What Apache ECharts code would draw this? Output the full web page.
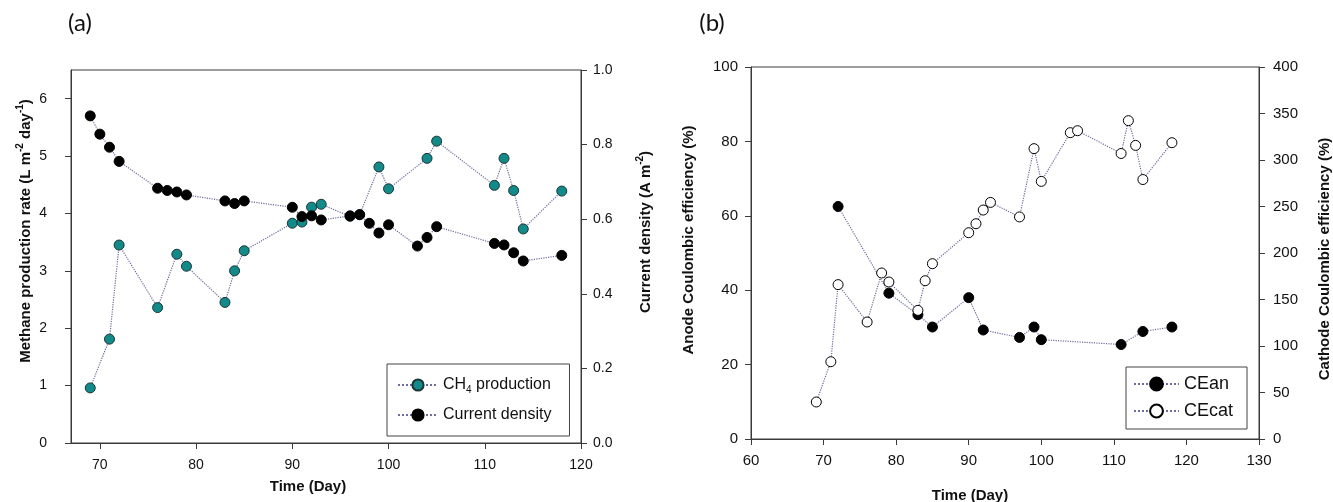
<!DOCTYPE html>
<html><head><meta charset="utf-8">
<script src="https://cdn.jsdelivr.net/npm/echarts@6/dist/echarts.min.js"></script>
<style>html,body{margin:0;padding:0;background:#fff}#c{width:1333px;height:502px}</style>
</head><body><div id="c"></div>
<script>
// ---- Panel (a) data ----
const dayCH4 = [69,71,72,76,78,79,83,84,85,90,91,92,93,96,97,99,100,104,105,111,112,113,114,118];
const ch4Rate = [0.96,1.81,3.45,2.36,3.29,3.08,2.45,3.00,3.35,3.83,3.85,4.11,4.16,3.95,3.98,4.81,4.43,4.96,5.26,4.49,4.96,4.40,3.73,4.39];
const dayCur = [69,70,71,72,76,77,78,79,83,84,85,90,91,92,93,96,97,98,99,100,103,104,105,111,112,113,114,118];
const curDensity = [0.877,0.828,0.793,0.755,0.683,0.677,0.673,0.665,0.649,0.642,0.649,0.632,0.607,0.609,0.598,0.609,0.612,0.589,0.563,0.585,0.528,0.551,0.580,0.535,0.531,0.510,0.488,0.503];
// ---- Panel (b) data ----
const dayCEan = [72,79,83,85,90,92,97,99,100,111,114,118];
const ceAn = [62.5,39.2,33.4,30.1,38.0,29.3,27.3,30.1,26.7,25.4,28.9,30.1];
const dayCEcat = [69,71,72,76,78,79,83,84,85,90,91,92,93,97,99,100,104,105,111,112,113,114,118];
const ceCat = [39.8,83.1,166,125.8,178.5,168.8,138.3,170.2,188.5,221.8,231.5,246.2,254.4,238.8,312.2,277,329.4,331.5,307,342.3,315.7,279,318.6];
// ---- tick values ----
const xTicksA = [70,80,90,100,110,120];
const yTicksA = [0,1,2,3,4,5,6];

const pair = (xs, ys) => xs.map((x, i) => [x, ys[i]]);
const FONT = '"Liberation Sans", Arial, sans-serif';
const AX = '#3a3a3a';
const LINE = '#6c6ca0';

function axisCommon(fs, margin) {
  return {
    axisLine: {show: true, onZero: false, lineStyle: {color: AX, width: 1}},
    axisTick: {show: true, inside: false, length: 6, lineStyle: {color: AX}},
    splitLine: {show: false},
    axisLabel: {color: '#111', fontSize: fs, fontFamily: FONT, margin: margin}
  };
}

const chart = echarts.init(document.getElementById('c'), null, {renderer: 'canvas'});
const option = {
  animation: false,
  backgroundColor: '#fff',
  grid: [
    {left: 71, top: 70, width: 510, height: 373, show: true, borderColor: AX, borderWidth: 1, backgroundColor: 'transparent'},
    {left: 751, top: 67, width: 508, height: 372, show: true, borderColor: AX, borderWidth: 1, backgroundColor: 'transparent'}
  ],
  xAxis: [
    Object.assign(axisCommon(14, 15), {
      type: 'value', gridIndex: 0, min: 67, max: 120,
      axisLabel: {color: '#111', fontSize: 14, fontFamily: FONT, margin: 15, customValues: xTicksA},
      axisTick: {show: true, length: 6, lineStyle: {color: AX}, customValues: xTicksA}
    }),
    Object.assign(axisCommon(15, 14), {
      type: 'value', gridIndex: 1, min: 60, max: 130, interval: 10
    })
  ],
  yAxis: [
    Object.assign(axisCommon(14, 24), {
      type: 'value', gridIndex: 0, position: 'left', min: 0, max: 6.5,
      axisLabel: {color: '#111', fontSize: 14, fontFamily: FONT, margin: 24, customValues: yTicksA},
      axisTick: {show: true, length: 6, lineStyle: {color: AX}, customValues: yTicksA}
    }),
    Object.assign(axisCommon(14, 12), {
      type: 'value', gridIndex: 0, position: 'right', min: 0, max: 1, interval: 0.2,
      axisLabel: {color: '#111', fontSize: 14, fontFamily: FONT, margin: 12, formatter: v => v.toFixed(1)}
    }),
    Object.assign(axisCommon(15, 13), {
      type: 'value', gridIndex: 1, position: 'left', min: 0, max: 100, interval: 20
    }),
    Object.assign(axisCommon(15, 14), {
      type: 'value', gridIndex: 1, position: 'right', min: 0, max: 400, interval: 50
    })
  ],
  legend: [
    {
      data: ['CH4 production', 'Current density'],
      orient: 'vertical', left: 387, top: 364,
      padding: [13, 18, 13, 10], itemWidth: 40, itemHeight: 14, itemGap: 12,
      borderColor: '#444', borderWidth: 1, backgroundColor: '#fff',
      formatter: name => name === 'CH4 production' ? '{n|CH}{s|4}{n| production}' : '{n|' + name + '}',
      textStyle: {
        color: '#111', fontFamily: FONT, fontSize: 16,
        rich: {
          n: {fontSize: 16, fontFamily: FONT, color: '#111', lineHeight: 20},
          s: {fontSize: 10, fontFamily: FONT, color: '#111', lineHeight: 20, verticalAlign: 'bottom', padding: [8, 0, 0, 0]}
        }
      }
    },
    {
      data: ['CEan', 'CEcat'],
      orient: 'vertical', left: 1126, top: 367,
      padding: [8, 14, 9, 7], itemWidth: 45, itemHeight: 16, itemGap: 9,
      borderColor: '#444', borderWidth: 1, backgroundColor: '#fff',
      textStyle: {color: '#111', fontFamily: FONT, fontSize: 18}
    }
  ],
  graphic: [
    {type: 'text', x: 80, y: 23, style: {text: '(a)', font: '24px Lato, "Open Sans", sans-serif', fill: '#111', align: 'center', verticalAlign: 'middle', textAlign: 'center', textVerticalAlign: 'middle'}},
    {type: 'text', x: 712, y: 23, style: {text: '(b)', font: '24px Lato, "Open Sans", sans-serif', fill: '#111', align: 'center', verticalAlign: 'middle', textAlign: 'center', textVerticalAlign: 'middle'}},
    {type: 'text', x: 26, y: 231, rotation: Math.PI / 2, style: {
      text: '{n|Methane production rate (L m}{s|-2}{n| day}{s|-1}{n|)}',
      rich: {
        n: {font: 'bold 15px ' + FONT, fill: '#111', lineHeight: 22},
        s: {font: 'bold 10px ' + FONT, fill: '#111', lineHeight: 22, verticalAlign: 'top', padding: [0, 0, 8, 0]}
      },
      align: 'center', verticalAlign: 'middle', textAlign: 'center', textVerticalAlign: 'middle'}},
    {type: 'text', x: 646, y: 232, rotation: Math.PI / 2, style: {
      text: '{n|Current density (A m}{s|-2}{n|)}',
      rich: {
        n: {font: 'bold 15px ' + FONT, fill: '#111', lineHeight: 22},
        s: {font: 'bold 10px ' + FONT, fill: '#111', lineHeight: 22, verticalAlign: 'top', padding: [0, 0, 8, 0]}
      },
      align: 'center', verticalAlign: 'middle', textAlign: 'center', textVerticalAlign: 'middle'}},
    {type: 'text', x: 308, y: 487, style: {text: 'Time (Day)', font: 'bold 15px ' + FONT, fill: '#111', align: 'center', verticalAlign: 'middle', textAlign: 'center', textVerticalAlign: 'middle'}},
    {type: 'text', x: 689, y: 240, rotation: Math.PI / 2, style: {text: 'Anode Coulombic efficiency (%)', font: 'bold 15px ' + FONT, fill: '#111', align: 'center', verticalAlign: 'middle', textAlign: 'center', textVerticalAlign: 'middle'}},
    {type: 'text', x: 1325, y: 259, rotation: Math.PI / 2, style: {text: 'Cathode Coulombic efficiency (%)', font: 'bold 15px ' + FONT, fill: '#111', align: 'center', verticalAlign: 'middle', textAlign: 'center', textVerticalAlign: 'middle'}},
    {type: 'text', x: 970, y: 496, style: {text: 'Time (Day)', font: 'bold 15px ' + FONT, fill: '#111', align: 'center', verticalAlign: 'middle', textAlign: 'center', textVerticalAlign: 'middle'}}
  ],
  series: [
    {
      name: 'CH4 production', type: 'line', xAxisIndex: 0, yAxisIndex: 0,
      data: pair(dayCH4, ch4Rate),
      symbol: 'circle', symbolSize: 10, showSymbol: true,
      lineStyle: {color: LINE, width: 1.2, type: 'dotted'},
      itemStyle: {color: '#138a8a', borderColor: '#1c3434', borderWidth: 1}
    },
    {
      name: 'Current density', type: 'line', xAxisIndex: 0, yAxisIndex: 1,
      data: pair(dayCur, curDensity),
      symbol: 'circle', symbolSize: 10, showSymbol: true,
      lineStyle: {color: LINE, width: 1.2, type: 'dotted'},
      itemStyle: {color: '#000', borderColor: '#000', borderWidth: 1}
    },
    {
      name: 'CEan', type: 'line', xAxisIndex: 1, yAxisIndex: 2,
      data: pair(dayCEan, ceAn),
      symbol: 'circle', symbolSize: 10, showSymbol: true,
      lineStyle: {color: LINE, width: 1.2, type: 'dotted'},
      itemStyle: {color: '#000', borderColor: '#000', borderWidth: 1}
    },
    {
      name: 'CEcat', type: 'line', xAxisIndex: 1, yAxisIndex: 3,
      data: pair(dayCEcat, ceCat),
      symbol: 'circle', symbolSize: 10, showSymbol: true,
      lineStyle: {color: LINE, width: 1.2, type: 'dotted'},
      itemStyle: {color: '#fff', borderColor: '#000', borderWidth: 1}
    }
  ]
};
chart.setOption(option);
</script>
</body></html>
